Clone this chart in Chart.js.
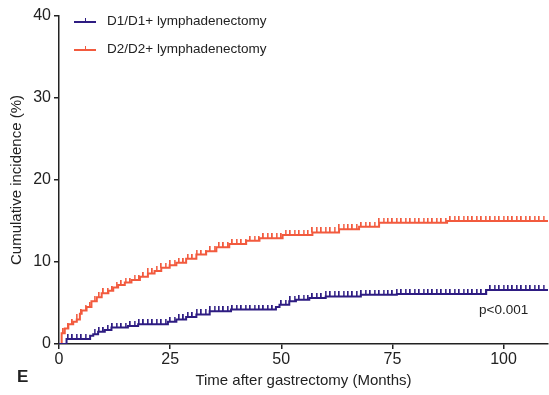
<!DOCTYPE html>
<html>
<head>
<meta charset="utf-8">
<script src="https://cdn.jsdelivr.net/npm/chart.js@4.4.1/dist/chart.umd.min.js"></script>
<style>
  html, body { margin: 0; padding: 0; background: #fff; }
  canvas { display: block; }
</style>
</head>
<body>
<canvas id="myChart" width="549" height="395"></canvas>
<script>
'use strict';

// Step times (months) and cumulative incidence (%) reached at each step
var d1Times  = [0, 1.7, 7.0, 7.7, 8.8, 10.3, 11.8, 15.5, 17.8, 24.5, 26.4, 28.6, 30.9, 33.9, 38.7, 48.8, 49.6, 51.8, 53.3, 56.3, 60.0, 67.9, 76.0, 96.1, 110];
var d1Values = [0, 0.6, 1.0, 1.2, 1.5, 1.7, 2.0, 2.2, 2.4, 2.7, 3.0, 3.3, 3.6, 4.0, 4.2, 4.5, 4.8, 5.2, 5.4, 5.6, 5.8, 6.0, 6.1, 6.6, 6.6];

var d2Times  = [0, 0.6, 1.3, 2.1, 3.2, 4.0, 4.7, 5.1, 6.2, 7.3, 8.5, 9.6, 11.1, 12.2, 13.3, 14.8, 16.3, 18.2, 20.0, 21.5, 23.0, 24.9, 26.4, 28.6, 30.9, 33.1, 35.4, 38.3, 42.1, 45.1, 50.3, 57.0, 63.0, 67.5, 72.0, 87.3, 110];
var d2Values = [0, 1.3, 1.9, 2.4, 2.7, 3.0, 3.7, 4.1, 4.5, 5.2, 5.7, 6.2, 6.5, 6.9, 7.2, 7.5, 7.8, 8.2, 8.6, 8.9, 9.3, 9.6, 9.9, 10.4, 10.9, 11.3, 11.8, 12.2, 12.6, 12.9, 13.3, 13.6, 14.0, 14.3, 14.8, 15.0, 15.0];

// Censoring marks (months)
var d1Censored = [2, 3, 4, 5, 6, 8, 9, 10, 11, 12, 13, 14, 15, 16, 17, 18, 19, 20, 21, 22, 23, 24, 25, 26, 27, 28, 29, 30,
  31, 32, 33, 34, 35, 36, 37, 38, 39, 40, 41, 42, 43, 44, 45, 46, 47, 48, 50, 51, 52, 53, 54, 55, 56, 57, 58, 59, 60,
  61, 62, 63, 64, 65, 66, 67, 68, 69, 70, 71, 72, 73, 74, 75, 76, 77, 78, 79, 80, 81, 82, 83, 84, 85, 86, 87, 88, 89, 90,
  91, 92, 93, 94, 95, 96, 97, 98, 99, 100, 101, 102, 103, 104, 105, 106, 107, 108, 109];
var d2Censored = [1, 2, 3, 4, 5, 6, 7, 8, 9, 10, 11, 12, 13, 14, 15, 16, 17, 18, 19, 20, 21, 22, 23, 24, 25, 26, 27, 28, 29, 30,
  31, 32, 33, 34, 35, 36, 37, 38, 39, 40, 41, 42, 43, 44, 45, 46, 47, 48, 49, 50, 51, 52, 53, 54, 55, 56, 57, 58, 59, 60,
  61, 62, 63, 64, 65, 66, 67, 68, 69, 70, 71, 72, 73, 74, 75, 76, 77, 78, 79, 80, 81, 82, 83, 84, 85, 86, 87, 88, 89, 90,
  91, 92, 93, 94, 95, 96, 97, 98, 99, 100, 101, 102, 103, 104, 105, 106, 107, 108, 109];

var seriesLabels = ['D1/D1+ lymphadenectomy', 'D2/D2+ lymphadenectomy'];
var xTicks = [0, 25, 50, 75, 100];
var yTicks = [0, 10, 20, 30, 40];

var BLUE = '#2e1c82';
var RED = '#f25a3e';
var FONT = '"Liberation Sans", Arial, sans-serif';

// value of the step function at time t
function valueAt(times, values, t) {
  var v = 0;
  for (var i = 0; i < times.length; i++) {
    if (times[i] <= t) v = values[i];
  }
  return v;
}

function toPoints(times, values) {
  return times.map(function (t, i) { return { x: t, y: values[i] }; });
}

function censorPoints(censored, times, values) {
  return censored.map(function (t) { return { x: t, y: valueAt(times, values, t) }; });
}

// small upward tick used as censor mark
function tickMark(color) {
  var c = document.createElement('canvas');
  c.width = 2;
  c.height = 10;
  var g = c.getContext('2d');
  g.fillStyle = color;
  g.fillRect(0, 0, 1.6, 5);
  return c;
}

var annotations = {
  id: 'annotations',
  afterDraw: function (chart) {
    var ctx = chart.ctx;
    ctx.save();
    var colors = [BLUE, RED];
    var ys = [22, 50];
    for (var i = 0; i < 2; i++) {
      ctx.strokeStyle = colors[i];
      ctx.lineWidth = 2;
      ctx.beginPath();
      ctx.moveTo(74, ys[i]);
      ctx.lineTo(96, ys[i]);
      ctx.stroke();
      ctx.lineWidth = 1;
      ctx.beginPath();
      ctx.moveTo(85.5, ys[i] - 4);
      ctx.lineTo(85.5, ys[i]);
      ctx.stroke();
      ctx.fillStyle = '#222';
      ctx.font = '13.5px ' + FONT;
      ctx.textAlign = 'left';
      ctx.textBaseline = 'middle';
      ctx.fillText(seriesLabels[i], 107, ys[i] - 1);
    }
    ctx.font = '13.5px ' + FONT;
    ctx.fillText('p<0.001', 479, 310);
    ctx.font = 'bold 17px ' + FONT;
    ctx.fillText('E', 17, 377);
    ctx.restore();
  }
};

var ctx = document.getElementById('myChart');
var myChart = new Chart(ctx, {
  type: 'line',
  data: {
    datasets: [
      {
        data: toPoints(d1Times, d1Values),
        borderColor: BLUE,
        borderWidth: 2,
        stepped: 'before',
        fill: false
      },
      {
        data: toPoints(d2Times, d2Values),
        borderColor: RED,
        borderWidth: 2,
        stepped: 'before',
        fill: false
      },
      {
        data: censorPoints(d1Censored, d1Times, d1Values),
        showLine: false,
        borderWidth: 0,
        pointStyle: tickMark(BLUE),
        pointRadius: 1
      },
      {
        data: censorPoints(d2Censored, d2Times, d2Values),
        showLine: false,
        borderWidth: 0,
        pointStyle: tickMark(RED),
        pointRadius: 1
      }
    ]
  },
  options: {
    responsive: false,
    animation: false,
    events: [],
    elements: {
      point: { radius: 0, hoverRadius: 0, borderWidth: 0, hoverBorderWidth: 0, hitRadius: 0 }
    },
    layout: { padding: { top: 16, right: 0, left: 0, bottom: 0 } },
    plugins: { legend: { display: false }, tooltip: { enabled: false } },
    scales: {
      x: {
        type: 'linear',
        min: 0,
        max: 110,
        afterFit: function (scale) {
          scale.height = 51;
          scale.paddingLeft = 0;
          scale.paddingRight = 0;
        },
        afterBuildTicks: function (scale) {
          scale.ticks = xTicks.map(function (v) { return { value: v }; });
        },
        ticks: { color: '#222', font: { family: FONT, size: 16 }, padding: 1, maxRotation: 0 },
        grid: { drawOnChartArea: false, tickLength: 5, color: '#222', lineWidth: 1.5 },
        border: { color: '#222', width: 1.5 },
        title: {
          display: true,
          text: 'Time after gastrectomy (Months)',
          color: '#222',
          font: { family: FONT, size: 15 },
          padding: { top: 0, bottom: 5 }
        }
      },
      y: {
        min: 0,
        max: 40,
        afterFit: function (scale) { scale.width = 59; },
        afterBuildTicks: function (scale) {
          scale.ticks = yTicks.map(function (v) { return { value: v }; });
        },
        ticks: { color: '#222', font: { family: FONT, size: 16 }, padding: 3 },
        grid: { drawOnChartArea: false, tickLength: 5, color: '#222', lineWidth: 1.5 },
        border: { color: '#222', width: 1.5 },
        title: {
          display: true,
          text: 'Cumulative incidence (%)',
          color: '#222',
          font: { family: FONT, size: 15 },
          padding: { top: 8, bottom: 0 }
        }
      }
    }
  },
  plugins: [annotations]
});
</script>
</body>
</html>
